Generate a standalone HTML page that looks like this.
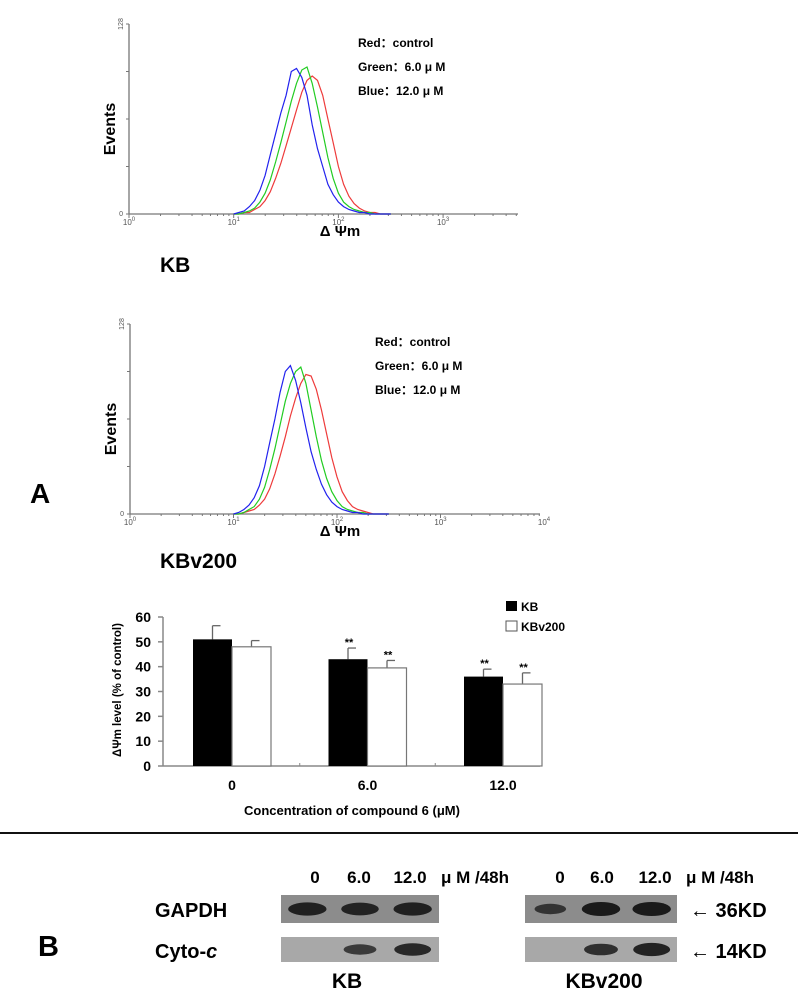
<!DOCTYPE html>
<html><head><meta charset="utf-8"><style>
body{margin:0;background:#fff;}
svg{display:block;font-family:"Liberation Sans",sans-serif;}
</style></head><body>
<svg id="fig" width="805" height="1000" viewBox="0 0 805 1000">
<g id="h1"></g>
<g id="h2"></g>
<text x="160" y="272" font-size="21" font-weight="bold">KB</text>
<text x="160" y="568" font-size="21" font-weight="bold">KBv200</text>
<text x="30" y="503" font-size="28" font-weight="bold">A</text>
<g id="bar"></g>
<line x1="0" y1="833" x2="798" y2="833" stroke="#111" stroke-width="2"/>
<g id="blots"></g>
</svg>
<script>
const NS="http://www.w3.org/2000/svg";
function el(tag,attrs,parent,txt){const e=document.createElementNS(NS,tag);for(const k in attrs)e.setAttribute(k,attrs[k]);if(txt!==undefined)e.textContent=txt;parent.appendChild(e);return e;}

// Histogram data: bins in log10 units, counts (max 128)
const binsLog=[1.00,1.05,1.10,1.15,1.20,1.25,1.30,1.35,1.40,1.45,1.50,1.55,1.60,1.65,1.70,1.75,1.80,1.85,1.90,1.95,2.00,2.05,2.10,2.15,2.20,2.25,2.30,2.35,2.40,2.45,2.50];
const kbBlue=[0,1,2,5,9,16,26,40,54,68,80,96,98,92,80,60,44,32,20,13,8,5,3,2,1,1,0,0,0,0,0];
const kbGreen=[0,0,1,2,4,8,14,23,35,48,62,76,88,97,99,88,72,55,38,24,14,8,5,3,2,1,1,0,0,0,0];
const kbRed=[0,0,1,1,3,5,9,15,24,34,46,58,70,82,90,93,90,80,64,48,32,20,12,7,4,2,1,1,0,0,0];
const kvBlue=[0,1,3,6,11,19,32,48,64,82,96,100,90,75,58,42,30,20,13,8,5,3,2,1,1,0,0,0,0,0,0];
const kvGreen=[0,0,1,3,5,10,18,30,44,60,76,88,96,99,88,70,52,36,24,15,9,5,3,2,1,1,0,0,0,0,0];
const kvRed=[0,0,1,2,3,6,10,17,27,39,52,66,78,88,94,93,84,70,54,38,25,15,9,5,3,2,1,0,0,0,0];

function histogram(g,ox,oy,top,dec,axEnd,show4,legX,legY,series){
  const x=v=>ox+v*dec, y=c=>oy-(c/128)*(oy-top);
  el('line',{x1:ox,y1:oy,x2:axEnd,y2:oy,stroke:'#777','stroke-width':1.3},g);
  el('line',{x1:ox,y1:oy,x2:ox,y2:top,stroke:'#777','stroke-width':1.3},g);
  [0,32,64,96,128].forEach(t=>{el('line',{x1:ox-3,y1:y(t),x2:ox,y2:y(t),stroke:'#777'},g);});
  let yl=el('text',{x:ox-6,y:top,'font-size':7,fill:'#555',transform:`rotate(-90 ${ox-6} ${top})`,'text-anchor':'middle'},g,'128');
  
  el('text',{x:ox-6,y:oy+2,'font-size':7,fill:'#555','text-anchor':'end'},g,'0');
  for(let d=0;d<4;d++){for(let m=1;m<=9;m++){const xx=x(d+Math.log10(m));if(xx>axEnd)break;el('line',{x1:xx,y1:oy,x2:xx,y2:oy+(m==1?4:2),stroke:'#777'},g);}}
  const decs=show4?[0,1,2,3,4]:[0,1,2,3];
  decs.forEach(d=>{const t=el('text',{x:x(d),y:oy+11,'font-size':8,fill:'#555','text-anchor':'middle'},g,'10');
    const s=el('tspan',{dy:-4,'font-size':6},t,String(d));});
  const ev=el('text',{x:ox-14,y:(oy+top)/2+10,'font-size':16,'font-weight':'bold',transform:`rotate(-90 ${ox-14} ${(oy+top)/2+10})`,'text-anchor':'middle'},g,'Events');
  
  const xt=el('text',{x:340,y:oy+22,'font-size':15,'font-weight':'bold','text-anchor':'middle'},g,'Δ Ψm');
  
  const cols=['#ee3b3b','#22cc22','#2222ee'];
  series.forEach((s,i)=>{let d='';binsLog.forEach((b,j)=>{d+=(j?'L':'M')+x(b).toFixed(1)+','+y(s[j]).toFixed(1);});
    const p=el('path',{d:d,fill:'none',stroke:cols[i],'stroke-width':1.2},g);
    });
  const leg=['Red：control','Green：6.0 μ M','Blue：12.0 μ M'];
  leg.forEach((t,i)=>{const e=el('text',{x:legX,y:legY+i*24,'font-size':12,'font-weight':'bold'},g,t);});
}
histogram(document.getElementById('h1'),129,214,24,104.7,518,false,358,47,[kbRed,kbGreen,kbBlue]);
histogram(document.getElementById('h2'),130,514,324,103.5,540,true,375,346,[kvRed,kvGreen,kvBlue]);

// Bar chart data
const categories=['0','6.0','12.0'];
const kbValues=[51,43,36];
const kbErr=[5.5,4.5,3];
const kbv200Values=[48,39.5,33];
const kbv200Err=[2.5,3,4.5];
const yTicks=[0,10,20,30,40,50,60];
const kbSig=['','**','**'];
const kbvSig=['','**','**'];
(function(){
  const g=document.getElementById('bar');
  const ox=163,oy=766,ymax=60,h=149,xEnd=540;
  const y=v=>oy-v/ymax*h;
  const cx=i=>232+i*135.5;
  const bw=39;
  el('line',{x1:ox,y1:oy,x2:xEnd,y2:oy,stroke:'#888','stroke-width':1.5},g);
  el('line',{x1:ox,y1:oy,x2:ox,y2:y(60),stroke:'#888','stroke-width':1.5},g);
  yTicks.forEach(t=>{el('line',{x1:ox-5,y1:y(t),x2:ox,y2:y(t),stroke:'#888','stroke-width':1.5},g);
    const e=el('text',{x:ox-12,y:y(t)+5,'font-size':14,'font-weight':'bold','text-anchor':'end'},g,String(t));});
  [0.5,1.5].forEach(k=>{const xx=(cx(0)+cx(1))/2+(k-0.5)*135.5;el('line',{x1:xx,y1:oy,x2:xx,y2:oy-3,stroke:'#888'},g);});
  categories.forEach((c,i)=>{
    const e=el('text',{x:cx(i),y:790,'font-size':14,'font-weight':'bold','text-anchor':'middle'},g,c);
    // KB bar
    const x1=cx(i)-bw;
    el('line',{x1:x1+bw/2,y1:y(kbValues[i]),x2:x1+bw/2,y2:y(kbValues[i]+kbErr[i]),stroke:'#666','stroke-width':1.3},g);
    el('line',{x1:x1+bw/2,y1:y(kbValues[i]+kbErr[i]),x2:x1+bw/2+8,y2:y(kbValues[i]+kbErr[i]),stroke:'#666','stroke-width':1.3},g);
    const b1=el('rect',{x:x1,y:y(kbValues[i]),width:bw,height:oy-y(kbValues[i]),fill:'#000'},g);
    const x2=cx(i);
    el('line',{x1:x2+bw/2,y1:y(kbv200Values[i]),x2:x2+bw/2,y2:y(kbv200Values[i]+kbv200Err[i]),stroke:'#666','stroke-width':1.3},g);
    el('line',{x1:x2+bw/2,y1:y(kbv200Values[i]+kbv200Err[i]),x2:x2+bw/2+8,y2:y(kbv200Values[i]+kbv200Err[i]),stroke:'#666','stroke-width':1.3},g);
    const b2=el('rect',{x:x2,y:y(kbv200Values[i]),width:bw,height:oy-y(kbv200Values[i]),fill:'#fff',stroke:'#777','stroke-width':1.2},g);
    if(kbSig[i]){const s=el('text',{x:x1+bw/2+1,y:y(kbValues[i]+kbErr[i])-2,'font-size':11,'font-weight':'bold','text-anchor':'middle'},g,kbSig[i]);}
    if(kbvSig[i]){const s=el('text',{x:x2+bw/2+1,y:y(kbv200Values[i]+kbv200Err[i])-2,'font-size':11,'font-weight':'bold','text-anchor':'middle'},g,kbvSig[i]);}
  });
  const yt=el('text',{x:121,y:690,'font-size':11.5,'font-weight':'bold','text-anchor':'middle',transform:'rotate(-90 121 690)'},g,'ΔΨm level (% of control)');
  const xt=el('text',{x:352,y:815,'font-size':13,'font-weight':'bold','text-anchor':'middle'},g,'Concentration of compound 6 (μM)');
  el('rect',{x:506,y:601,width:11,height:10,fill:'#000'},g);
  el('rect',{x:506,y:621,width:11,height:10,fill:'#fff',stroke:'#555'},g);
  el('text',{x:521,y:611,'font-size':12,'font-weight':'bold'},g,'KB');
  el('text',{x:521,y:631,'font-size':12,'font-weight':'bold'},g,'KBv200');
})();

// Western blot
const doses=['0','6.0','12.0'];
const gapdhKB=[0.9,0.85,0.9];
const gapdhKBv=[0.55,1.0,1.0];
const cytoKB=[0,0.55,0.8];
const cytoKBv=[0,0.7,0.9];
(function(){
  const g=document.getElementById('blots');
  const t=(x,y,s,txt,name,extra)=>{const e=el('text',Object.assign({x:x,y:y,'font-size':s,'font-weight':'bold'},extra||{}),g,txt);return e;};
  t(38,956,29,'B','panel-b-label');
  const head=[[315,'0'],[359,'6.0'],[410,'12.0'],[560,'0'],[602,'6.0'],[655,'12.0']];
  head.forEach(h=>t(h[0],883,17,h[1],'dose-label',{'text-anchor':'middle'}));
  t(441,883,17,'μ M /48h','unit-label');t(686,883,17,'μ M /48h','unit-label');
  t(155,917,20,'GAPDH','gapdh-label');
  const c=t(155,958,20,'Cyto-','cyto-c-label');el('tspan',{'font-style':'italic'},c,'c');
  t(690,917,20,'← 36KD','36kd-marker');t(690,958,20,'← 14KD','14kd-marker');
  t(347,988,21,'KB','kb-blot-label',{'text-anchor':'middle'});
  t(604,988,21,'KBv200','kbv200-blot-label',{'text-anchor':'middle'});
  function blot(x0,x1,y0,y1,vals,bg,name){
    const r=el('rect',{x:x0,y:y0,width:x1-x0,height:y1-y0,fill:bg},g);
    const w=(x1-x0)/3;
    vals.forEach((v,i)=>{if(v<=0)return;const cx=x0+w*(i+0.5),cy=(y0+y1)/2;
      const b=el('ellipse',{cx:cx,cy:cy,rx:w*0.38*Math.min(1,0.6+v*0.4),ry:3+v*4,fill:'#1a1a1a','fill-opacity':0.5+v*0.5},g);});
  }
  blot(281,439,895,923,gapdhKB,'#8c8c8c','gapdh-blot-kb');
  blot(525,677,895,923,gapdhKBv,'#8c8c8c','gapdh-blot-kbv200');
  blot(281,439,937,962,cytoKB,'#a8a8a8','cyto-c-blot-kb');
  blot(525,677,937,962,cytoKBv,'#a8a8a8','cyto-c-blot-kbv200');
})();
</script>
</body></html>
